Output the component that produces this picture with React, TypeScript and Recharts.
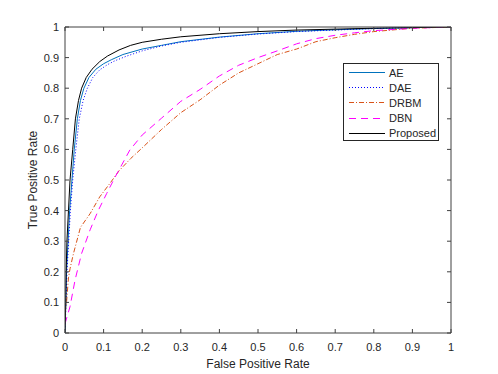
import React from 'react';
import {
  LineChart,
  Line,
  XAxis,
  YAxis,
  Legend,
} from 'recharts';

// ROC curves
const aeFpr = [0, 0.004, 0.012, 0.018, 0.024, 0.032, 0.04, 0.049, 0.062, 0.08, 0.1, 0.12, 0.15, 0.2, 0.25, 0.3, 0.4, 0.5, 0.6, 0.7, 0.8, 0.9, 1];
const aeTpr = [0, 0.2, 0.4, 0.5, 0.6, 0.7, 0.76, 0.8, 0.835, 0.862, 0.88, 0.893, 0.91, 0.928, 0.94, 0.952, 0.967, 0.978, 0.986, 0.991, 0.995, 0.998, 1];

const daeFpr = [0, 0.005, 0.014, 0.02, 0.028, 0.037, 0.047, 0.058, 0.072, 0.09, 0.11, 0.13, 0.16, 0.2, 0.25, 0.3, 0.4, 0.5, 0.6, 0.7, 0.8, 0.9, 1];
const daeTpr = [0, 0.2, 0.4, 0.5, 0.6, 0.7, 0.76, 0.8, 0.835, 0.86, 0.877, 0.89, 0.905, 0.922, 0.938, 0.95, 0.966, 0.977, 0.985, 0.99, 0.995, 0.998, 1];

const drbmFpr = [0, 0.004, 0.009, 0.013, 0.022, 0.04, 0.065, 0.09, 0.117, 0.14, 0.17, 0.2, 0.25, 0.3, 0.35, 0.4, 0.45, 0.5, 0.55, 0.6, 0.65, 0.7, 0.75, 0.8, 0.9, 1];
const drbmTpr = [0.07, 0.1, 0.18, 0.21, 0.26, 0.345, 0.39, 0.445, 0.49, 0.53, 0.57, 0.605, 0.665, 0.72, 0.762, 0.81, 0.85, 0.88, 0.91, 0.928, 0.952, 0.965, 0.976, 0.985, 0.996, 1];

const dbnFpr = [0, 0.013, 0.026, 0.043, 0.065, 0.086, 0.108, 0.13, 0.168, 0.2, 0.25, 0.3, 0.35, 0.4, 0.45, 0.5, 0.55, 0.6, 0.65, 0.7, 0.75, 0.8, 0.9, 1];
const dbnTpr = [0.03, 0.086, 0.173, 0.26, 0.337, 0.4, 0.456, 0.51, 0.598, 0.647, 0.702, 0.757, 0.796, 0.84, 0.875, 0.9, 0.922, 0.945, 0.962, 0.973, 0.981, 0.988, 0.996, 1];

const propFpr = [0, 0.002, 0.003, 0.005, 0.009, 0.013, 0.02, 0.027, 0.035, 0.043, 0.055, 0.07, 0.09, 0.11, 0.14, 0.17, 0.2, 0.25, 0.3, 0.4, 0.5, 0.6, 0.7, 0.8, 0.9, 1];
const propTpr = [0, 0.1, 0.2, 0.3, 0.4, 0.5, 0.6, 0.7, 0.76, 0.8, 0.835, 0.862, 0.887, 0.905, 0.925, 0.94, 0.95, 0.96, 0.968, 0.978, 0.985, 0.99, 0.993, 0.996, 0.998, 1];

const ticks = [0, 0.1, 0.2, 0.3, 0.4, 0.5, 0.6, 0.7, 0.8, 0.9, 1];

const toPoints = (fpr: number[], tpr: number[]) =>
  fpr.map((x, i) => ({ fpr: x, tpr: tpr[i] }));

const series = [
  { name: 'AE', data: toPoints(aeFpr, aeTpr), color: '#0072BD', dash: undefined },
  { name: 'DAE', data: toPoints(daeFpr, daeTpr), color: '#0000FF', dash: '1 2' },
  { name: 'DRBM', data: toPoints(drbmFpr, drbmTpr), color: '#D95319', dash: '5 2 1 2' },
  { name: 'DBN', data: toPoints(dbnFpr, dbnTpr), color: '#FF00FF', dash: '7 5' },
  { name: 'Proposed', data: toPoints(propFpr, propTpr), color: '#000000', dash: undefined },
];

const axisColor = '#404040';
const textColor = '#262626';
const tickLineStyle = { stroke: axisColor, strokeWidth: 1 };
const noLabel = () => '';

const LegendBox = () => (
  <div
    style={{
      border: `1px solid ${textColor}`,
      background: '#fff',
      width: 94,
      height: 76,
      boxSizing: 'content-box',
    }}
  >
    {series.map((s, i) => (
      <div
        key={s.name}
        style={{
          position: 'absolute',
          left: 0,
          top: 2 + i * 15.2,
          height: 15,
          display: 'flex',
          alignItems: 'center',
          fontSize: 11,
          color: textColor,
        }}
      >
        <svg width={46} height={15}>
          <line x1={6} x2={42} y1={7.5} y2={7.5} stroke={s.color} strokeWidth={1} strokeDasharray={s.dash} />
        </svg>
        <span>{s.name}</span>
      </div>
    ))}
  </div>
);

const App = () => (
  <div style={{ position: 'absolute', left: 0, top: 0, fontFamily: '"Liberation Sans", Arial, sans-serif' }}>
    <LineChart
      width={498}
      height={374}
      margin={{ top: 17, right: 37, left: 5, bottom: 1 }}
    >
      <XAxis
        type="number"
        dataKey="fpr"
        domain={[0, 1]}
        allowDataOverflow
        ticks={ticks}
        interval={0}
        height={40}
        stroke={axisColor}
        tickLine={tickLineStyle}
        tickSize={-4}
        tickMargin={14}
        tick={{ fill: textColor, fontSize: 11 }}
        label={{ value: 'False Positive Rate', position: 'insideBottom', offset: 5, fill: textColor, fontSize: 12 }}
      />
      <XAxis
        xAxisId="top"
        orientation="top"
        dataKey="fpr"
        type="number"
        domain={[0, 1]}
        allowDataOverflow
        ticks={ticks}
        interval={0}
        height={10}
        stroke={axisColor}
        tickLine={tickLineStyle}
        tickSize={-4}
        tickFormatter={noLabel}
      />
      <YAxis
        type="number"
        domain={[0, 1]}
        allowDataOverflow
        ticks={ticks}
        interval={0}
        width={60}
        stroke={axisColor}
        tickLine={tickLineStyle}
        tickSize={-4}
        tickMargin={10}
        tick={{ fill: textColor, fontSize: 11 }}
        label={{
          value: 'True Positive Rate',
          angle: -90,
          position: 'insideLeft',
          offset: 28,
          fill: textColor,
          fontSize: 12,
          style: { textAnchor: 'middle' },
        }}
      />
      <YAxis
        yAxisId="right"
        orientation="right"
        type="number"
        domain={[0, 1]}
        allowDataOverflow
        ticks={ticks}
        interval={0}
        width={10}
        stroke={axisColor}
        tickLine={tickLineStyle}
        tickSize={-4}
        tickFormatter={noLabel}
      />
      {/* invisible copy so the top/right frame axes have a series attached */}
      <Line
        data={series[4].data}
        dataKey="tpr"
        xAxisId="top"
        yAxisId="right"
        stroke="none"
        dot={false}
        activeDot={false}
        legendType="none"
        isAnimationActive={false}
      />
      {series.map((s) => (
        <Line
          key={s.name}
          data={s.data}
          dataKey="tpr"
          name={s.name}
          type="linear"
          stroke={s.color}
          strokeWidth={1}
          strokeDasharray={s.dash}
          dot={false}
          activeDot={false}
          isAnimationActive={false}
        />
      ))}
      <Legend
        layout="vertical"
        align="center"
        verticalAlign="middle"
        wrapperStyle={{ left: 343, top: 63, width: 96, height: 78 }}
        content={() => <LegendBox />}
      />
    </LineChart>
  </div>
);

export default App;
